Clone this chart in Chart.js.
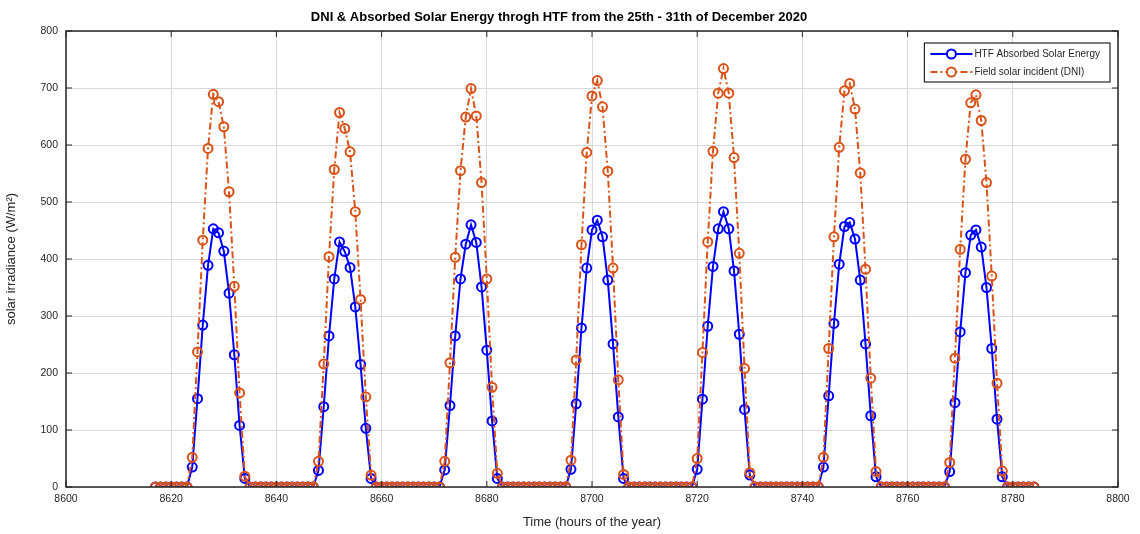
<!DOCTYPE html>
<html>
<head>
<meta charset="utf-8">
<title>DNI & Absorbed Solar Energy</title>
<script src="https://cdn.jsdelivr.net/npm/chart.js@4.4.1/dist/chart.umd.min.js"></script>
<style>
    html, body { margin: 0; padding: 0; background: #fff; }
    #wrap { width: 1140px; height: 534px; }
</style>
</head>
<body>
<div id="wrap"><canvas id="solarChart" width="1140" height="534"></canvas></div>
<script>
// First hour plotted (hour of the year), one value per hour after that
const startHour = 8617;

// HTF absorbed solar energy (W/m2), 25th - 31st December
const absorbed = [
    0, 0, 0, 0, 0, 0, 0,
    35, 155, 284, 389, 453, 446, 414, 340, 232, 108, 15,
    0, 0, 0, 0, 0, 0, 0, 0, 0, 0, 0, 0, 0,
    29, 141, 265, 365, 430, 413, 385, 316, 215, 103, 15,
    0, 0, 0, 0, 0, 0, 0, 0, 0, 0, 0, 0, 0,
    30, 143, 265, 365, 426, 460, 429, 351, 240, 116, 15,
    0, 0, 0, 0, 0, 0, 0, 0, 0, 0, 0, 0, 0,
    31, 146, 279, 384, 451, 468, 439, 363, 251, 123, 15,
    0, 0, 0, 0, 0, 0, 0, 0, 0, 0, 0, 0, 0,
    31, 154, 282, 387, 453, 483, 453, 379, 268, 136, 21,
    0, 0, 0, 0, 0, 0, 0, 0, 0, 0, 0, 0, 0,
    35, 160, 287, 391, 457, 464, 435, 363, 251, 125, 18,
    0, 0, 0, 0, 0, 0, 0, 0, 0, 0, 0, 0, 0,
    27, 148, 272, 376, 442, 451, 421, 350, 243, 119, 18,
    0, 0, 0, 0, 0, 0
];

// Field solar incident (DNI), W/m2
const dni = [
    0, 0, 0, 0, 0, 0, 0,
    52, 237, 433, 594, 689, 676, 632, 518, 352, 165, 19,
    0, 0, 0, 0, 0, 0, 0, 0, 0, 0, 0, 0, 0,
    45, 216, 404, 557, 657, 629, 588, 483, 329, 158, 21,
    0, 0, 0, 0, 0, 0, 0, 0, 0, 0, 0, 0, 0,
    45, 218, 403, 555, 649, 699, 651, 534, 365, 175, 24,
    0, 0, 0, 0, 0, 0, 0, 0, 0, 0, 0, 0, 0,
    47, 223, 425, 587, 686, 713, 667, 554, 384, 188, 22,
    0, 0, 0, 0, 0, 0, 0, 0, 0, 0, 0, 0, 0,
    50, 236, 430, 589, 691, 734, 691, 578, 410, 208, 25,
    0, 0, 0, 0, 0, 0, 0, 0, 0, 0, 0, 0, 0,
    52, 243, 439, 596, 695, 708, 663, 551, 382, 191, 27,
    0, 0, 0, 0, 0, 0, 0, 0, 0, 0, 0, 0, 0,
    43, 226, 417, 575, 674, 688, 643, 534, 370, 182, 28,
    0, 0, 0, 0, 0, 0
];

const seriesNames = ['HTF Absorbed Solar Energy', 'Field solar incident (DNI)'];
const xTicks = [8600, 8800, 20];   // min, max, step
const yTicks = [0, 800, 100];

const FONT = '"Liberation Sans", Arial, sans-serif';
const AXIS_COLOR = '#262626';
const BLUE = '#0000ff';
const ORANGE = '#d95319';

const toPoints = (values) => values.map((v, i) => ({ x: startHour + i, y: v }));

// MATLAB style box round the axes with inward ticks
const axesBox = {
    id: 'axesBox',
    afterDatasetsDraw(chart) {
        const { ctx, chartArea: a, scales } = chart;
        ctx.save();
        ctx.strokeStyle = AXIS_COLOR;
        ctx.lineWidth = 1.5;
        ctx.strokeRect(a.left, a.top, a.right - a.left, a.bottom - a.top);
        ctx.lineWidth = 1;
        ctx.beginPath();
        scales.x.ticks.forEach(t => {
            const px = scales.x.getPixelForValue(t.value);
            ctx.moveTo(px, a.bottom); ctx.lineTo(px, a.bottom - 6);
            ctx.moveTo(px, a.top); ctx.lineTo(px, a.top + 6);
        });
        scales.y.ticks.forEach(t => {
            const py = scales.y.getPixelForValue(t.value);
            ctx.moveTo(a.left, py); ctx.lineTo(a.left + 6, py);
            ctx.moveTo(a.right, py); ctx.lineTo(a.right - 6, py);
        });
        ctx.stroke();
        ctx.restore();
    }
};

// legend drawn inside the axes, top right
const insideLegend = {
    id: 'insideLegend',
    afterDraw(chart) {
        const { ctx, chartArea: a } = chart;
        const sets = chart.data.datasets;
        ctx.save();
        ctx.font = '10px ' + FONT;
        const textW = Math.max(...sets.map(d => ctx.measureText(d.label).width));
        const w = textW + 60, h = 39;
        const left = a.right - 8 - w, top = a.top + 12;
        ctx.fillStyle = '#fff';
        ctx.fillRect(left, top, w, h);
        ctx.strokeStyle = AXIS_COLOR;
        ctx.lineWidth = 1.2;
        ctx.strokeRect(left, top, w, h);
        sets.forEach((d, i) => {
            const y = top + 11 + i * 18;
            ctx.strokeStyle = d.borderColor;
            ctx.lineWidth = d.borderWidth;
            ctx.setLineDash(d.borderDash || []);
            ctx.beginPath();
            ctx.moveTo(left + 6, y); ctx.lineTo(left + 48, y);
            ctx.stroke();
            ctx.setLineDash([]);
            ctx.beginPath();
            ctx.arc(left + 27, y, d.pointRadius, 0, Math.PI * 2);
            ctx.fillStyle = '#fff';
            ctx.fill();
            ctx.lineWidth = d.pointBorderWidth;
            ctx.stroke();
            ctx.fillStyle = AXIS_COLOR;
            ctx.textBaseline = 'middle';
            ctx.fillText(d.label, left + 50, y + 0.5);
        });
        ctx.restore();
    }
};

const ctx = document.getElementById('solarChart').getContext('2d');
new Chart(ctx, {
    type: 'line',
    data: {
        datasets: [
            {
                label: seriesNames[0], data: toPoints(absorbed),
                borderColor: BLUE, borderWidth: 2, order: 1,
                pointRadius: 4.5, pointBorderWidth: 2, pointBorderColor: BLUE,
                pointBackgroundColor: 'rgba(255,255,255,0)', tension: 0
            },
            {
                label: seriesNames[1], data: toPoints(dni),
                borderColor: ORANGE, borderWidth: 2, borderDash: [7, 3, 2, 3], order: 0,
                pointRadius: 4.5, pointBorderWidth: 2, pointBorderColor: ORANGE,
                pointBackgroundColor: 'rgba(255,255,255,0)', tension: 0
            }
        ]
    },
    options: {
        responsive: false,
        animation: false,
        layout: { padding: { left: 0, right: 22, top: 0, bottom: 0 } },
        plugins: {
            legend: { display: false },
            tooltip: { enabled: false },
            title: {
                display: true,
                text: 'DNI & Absorbed Solar Energy throgh HTF from the 25th - 31th of December 2020',
                color: '#000',
                font: { family: FONT, size: 13, weight: 'bold' },
                padding: { top: 10, bottom: 5.4 }
            }
        },
        scales: {
            x: {
                type: 'linear', min: xTicks[0], max: xTicks[1],
                ticks: { stepSize: xTicks[2], color: AXIS_COLOR, padding: 6,
                    font: { family: FONT, size: 10.5 },
                    callback: v => String(v) },
                grid: { color: '#d9d9d9', drawTicks: false },
                border: { display: false },
                title: { display: true, text: 'Time (hours of the year)', color: AXIS_COLOR,
                    font: { family: FONT, size: 13 }, padding: { top: 6 } },
                afterFit: s => { s.height = 47; }
            },
            y: {
                min: yTicks[0], max: yTicks[1],
                ticks: { stepSize: yTicks[2], color: AXIS_COLOR, padding: 8,
                    font: { family: FONT, size: 10.5 } },
                grid: { color: '#d9d9d9', drawTicks: false },
                border: { display: false },
                title: { display: true, text: 'solar irradiance (W/m²)', color: AXIS_COLOR,
                    font: { family: FONT, size: 13 }, padding: { bottom: 4 } },
                afterFit: s => { s.width = 66; }
            }
        }
    },
    plugins: [axesBox, insideLegend]
});
</script>
</body>
</html>
